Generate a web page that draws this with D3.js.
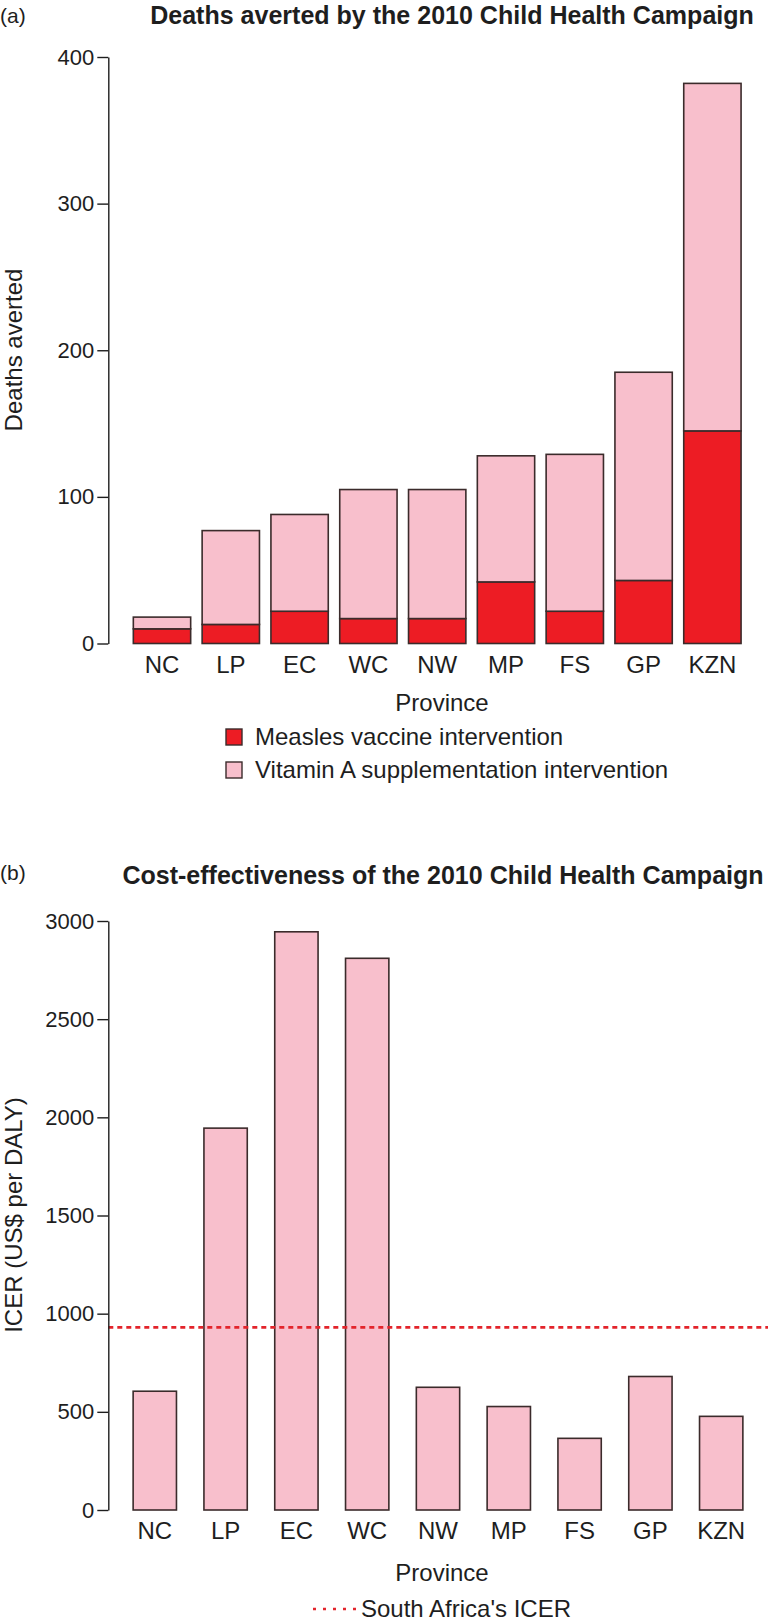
<!DOCTYPE html>
<html><head><meta charset="utf-8">
<script src="https://cdn.jsdelivr.net/npm/d3@7"></script>
<style>body{margin:0;background:#fff}svg{display:block}</style>
</head><body>
<script>
// ---- data ----
const provinces = ["NC","LP","EC","WC","NW","MP","FS","GP","KZN"];
const measlesDeaths = [10, 13, 22, 17, 17, 42, 22, 43, 145];
const vitaminADeaths = [8, 64, 66, 88, 88, 86, 107, 142, 237];
const deathTicks = [0, 100, 200, 300, 400];
const icer = [605, 1945, 2945, 2810, 625, 527, 365, 680, 477];
const icerTicks = [0, 500, 1000, 1500, 2000, 2500, 3000];
const southAfricaICER = 930;
const seriesNames = ["Measles vaccine intervention", "Vitamin A supplementation intervention"];

const W = 768, H = 1622;
const svg = d3.select("body").append("svg").attr("width", W).attr("height", H);
const red = "#ed1c24", pink = "#f8bfcc", edge = "#3b2b2b", ink = "#1e1e1e";
const tickFont = "'Liberation Sans', Arial, sans-serif";
const narrow = "'Liberation Sans Narrow', 'Liberation Sans', sans-serif";
const TICK = 22, LAB = 24, CAT = 24;

function fitText(sel, target) {
  const w = sel.node().getComputedTextLength();
  const fs = parseFloat(sel.attr("font-size"));
  sel.attr("font-size", fs * target / w);
  return fs * target / w;
}

// ---------- Panel (a) ----------
const xa = d3.scaleBand().domain(provinces).range([127.6, 746.8]).paddingInner(0.1667).paddingOuter(0.0833);
const ya = d3.scaleLinear().domain([0, 400]).range([643.5, 57]);
svg.append("text").attr("x", 0).attr("y", 23).attr("font-family", tickFont).attr("font-size", 21).attr("fill", ink).text("(a)");
const ta = svg.append("text").attr("x", 452).attr("y", 24).attr("text-anchor", "middle")
  .attr("font-family", narrow).attr("font-weight", "bold").attr("font-size", 22).attr("fill", ink)
  .text("Deaths averted by the 2010 Child Health Campaign");
const titleSize = fitText(ta, 604);

const stackData = provinces.map((p, i) => ({p, m: measlesDeaths[i], v: vitaminADeaths[i]}));
const stacked = d3.stack().keys(["m", "v"])(stackData);
const gA = svg.append("g");
stacked.forEach((layer, li) => {
  gA.selectAll(null).data(layer).enter().append("rect")
    .attr("x", d => xa(d.data.p)).attr("width", xa.bandwidth())
    .attr("y", d => ya(d[1])).attr("height", d => ya(d[0]) - ya(d[1]))
    .attr("fill", li === 0 ? red : pink).attr("stroke", edge).attr("stroke-width", 1.6);
});

function styleY(ax) {
  ax.select(".domain").attr("stroke", ink).attr("stroke-width", 1.4);
  ax.selectAll(".tick line").attr("stroke", ink).attr("stroke-width", 1.4);
  ax.selectAll("text").attr("font-family", tickFont).attr("font-size", TICK).attr("fill", ink);
}
const axA = svg.append("g").attr("transform", "translate(108.3,0)")
  .call(d3.axisLeft(ya).tickValues(deathTicks).tickFormat(d3.format("d")).tickSize(11).tickPadding(3).tickSizeOuter(0));
styleY(axA);

const axAx = svg.append("g").attr("transform", "translate(0,643.5)")
  .call(d3.axisBottom(xa).tickSize(0).tickPadding(12));
axAx.select(".domain").remove();
axAx.selectAll("text").attr("font-family", narrow).attr("font-size", CAT).attr("fill", ink);

svg.append("text").attr("transform", "translate(22,350) rotate(-90)").attr("text-anchor", "middle")
  .attr("font-family", narrow).attr("font-size", LAB).attr("fill", ink).text("Deaths averted");
svg.append("text").attr("x", 442).attr("y", 711).attr("text-anchor", "middle")
  .attr("font-family", narrow).attr("font-size", LAB).attr("fill", ink).text("Province");

const legA = svg.append("g");
seriesNames.forEach((s, i) => {
  const y = 737 + i * 33;
  legA.append("rect").attr("x", 226).attr("y", y - 8).attr("width", 16).attr("height", 16)
    .attr("fill", i === 0 ? red : pink).attr("stroke", edge).attr("stroke-width", 1.4);
  legA.append("text").attr("x", 255).attr("y", y + 8).attr("font-family", narrow).attr("font-size", LAB)
    .attr("fill", ink).text(s);
});

// ---------- Panel (b) ----------
const xb = d3.scaleBand().domain(provinces).range([119.4, 756.6]).paddingInner(0.388).paddingOuter(0.194);
const yb = d3.scaleLinear().domain([0, 3000]).range([1510, 921]);
svg.append("text").attr("x", 0).attr("y", 880).attr("font-family", tickFont).attr("font-size", 21).attr("fill", ink).text("(b)");
svg.append("text").attr("x", 443).attr("y", 884).attr("text-anchor", "middle")
  .attr("font-family", narrow).attr("font-weight", "bold").attr("font-size", titleSize).attr("fill", ink)
  .text("Cost-effectiveness of the 2010 Child Health Campaign");

svg.append("g").selectAll("rect").data(provinces).enter().append("rect")
  .attr("x", d => xb(d)).attr("width", xb.bandwidth())
  .attr("y", (d, i) => yb(icer[i])).attr("height", (d, i) => yb(0) - yb(icer[i]))
  .attr("fill", pink).attr("stroke", edge).attr("stroke-width", 1.6);

svg.append("line").attr("x1", 108.3).attr("x2", W).attr("y1", yb(southAfricaICER)).attr("y2", yb(southAfricaICER))
  .attr("stroke", "#e3242b").attr("stroke-width", 2.6).attr("stroke-dasharray", "5,4");

const axB = svg.append("g").attr("transform", "translate(108.3,0)")
  .call(d3.axisLeft(yb).tickValues(icerTicks).tickFormat(d3.format("d")).tickSize(11).tickPadding(3).tickSizeOuter(0));
styleY(axB);

const axBx = svg.append("g").attr("transform", "translate(0,1510)")
  .call(d3.axisBottom(xb).tickSize(0).tickPadding(12));
axBx.select(".domain").remove();
axBx.selectAll("text").attr("font-family", narrow).attr("font-size", CAT).attr("fill", ink);

svg.append("text").attr("transform", "translate(22,1215) rotate(-90)").attr("text-anchor", "middle")
  .attr("font-family", narrow).attr("font-size", LAB).attr("fill", ink).text("ICER (US$ per DALY)");
svg.append("text").attr("x", 442).attr("y", 1581).attr("text-anchor", "middle")
  .attr("font-family", narrow).attr("font-size", LAB).attr("fill", ink).text("Province");

svg.append("line").attr("x1", 313).attr("x2", 356).attr("y1", 1609).attr("y2", 1609)
  .attr("stroke", "#e3242b").attr("stroke-width", 2.6).attr("stroke-dasharray", "3,7");
svg.append("text").attr("x", 361).attr("y", 1617).attr("font-family", narrow).attr("font-size", LAB)
  .attr("fill", ink).text("South Africa's ICER");
</script>
</body></html>
